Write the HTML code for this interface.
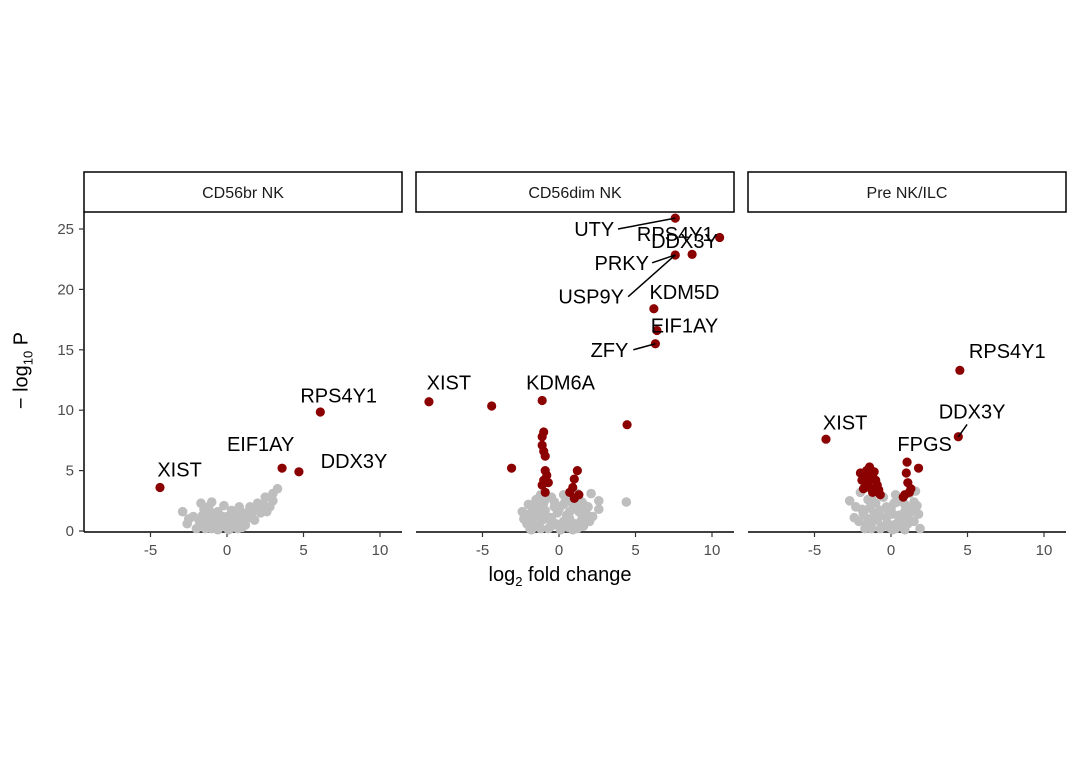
<!DOCTYPE html>
<html><head><meta charset="utf-8"><style>
body{margin:0;background:#fff}
svg{display:block;font-family:"Liberation Sans",sans-serif}
</style></head><body>
<svg id="chart" width="1080" height="771" viewBox="0 0 1080 771" xmlns="http://www.w3.org/2000/svg"></svg>
<script>
const panelNames = ["CD56br NK", "CD56dim NK", "Pre NK/ILC"];
const xTicks = [-5, 0, 5, 10];
const yTicks = [0, 5, 10, 15, 20, 25];
const grayX1 = [-2.9,-2.5,-1.7,-1.5,-1.2,-1,-0.8,-0.5,0,0.5,1,1.5,2,2.5,3,3.3,2.2,1.2,-1.5,-1.8,0.8,-0.3,0.3,-2,1.8,2.8,-1,0.1,-0.6,0.7,-1.3,0.2,1.4,-0.2,0.9,-0.9,1.6,2.4,-2.2,0.4,-1.6,-1.2,-0.8,-0.4,0,0.4,0.8,1.2,1.6,2,-1.4,-1,-0.6,-0.2,0.2,0.6,1,1.4,1.8,-2.6,2.6,3.0];
const grayY1 = [1.6,1.0,2.3,1.8,2.0,1.5,1.0,0.5,0.3,0.8,1.5,2.0,2.3,2.8,3.1,3.5,1.5,0.5,0.4,0.8,2.0,1.2,1.7,0.2,0.9,2.0,2.4,0.1,0.1,0.2,1.1,0.9,1.1,2.1,0.7,0.6,1.6,2.2,1.2,0.5,1.3,0.9,0.5,0.7,1.2,0.4,1.0,0.9,1.3,1.8,0.2,0.2,1.6,0.4,0.2,1.3,0.3,1.6,1.9,0.6,1.6,2.5];
const redX1 = [-4.38,6.1,3.6,4.7];
const redY1 = [3.6,9.85,5.2,4.9];
const grayX2 = [-2.3,-2,-1.8,-1.5,-1.2,-1,-0.8,-0.5,-0.2,0,0.3,0.6,0.9,1.2,1.5,1.8,2.1,2.6,2.6,4.4,-1.6,-1.1,-0.6,0.2,0.7,1.1,1.6,-2.4,-1.9,-0.3,0.5,1.3,2,-1.4,0.1,0.9,-0.7,1.7,-1.3,0.4,-2.1,-1.7,-1.3,-0.9,-0.5,-0.1,0.3,0.7,1.1,1.5,1.9,-1.8,-1.2,-0.6,0,0.6,1.2,1.8,-1.5,-0.9,-0.3,0.3,0.9,1.5,-2.2,2.2,-0.4,0.8];
const grayY2 = [1.0,2.2,1.5,2.6,3.0,2.3,1.2,2.8,0.6,1.8,3.0,2.7,2.2,3.1,2.4,1.4,3.1,2.5,1.8,2.4,0.5,0.9,0.3,0.5,1.0,0.6,0.4,1.6,0.2,2.0,1.3,1.6,0.8,1.9,0.1,0.1,0.2,2.1,0.4,2.4,0.6,1.0,1.4,1.7,1.1,1.5,0.8,1.6,1.9,1.0,2.0,0.1,0.2,0.9,0.4,0.3,0.2,1.2,2.0,2.6,2.4,2.2,2.8,1.7,1.4,1.2,0.5,2.5];
const redX2 = [-8.5,-4.4,-1.1,4.45,-3.1,7.6,10.5,8.7,7.6,6.2,6.4,6.3,-1,-1.1,-1.1,-1,-0.9,-0.9,-0.8,-1,-1.1,-0.7,1.2,1,0.9,0.7,1.3,1,-0.9];
const redY2 = [10.7,10.35,10.8,8.8,5.2,25.9,24.3,22.9,22.85,18.4,16.6,15.5,8.2,7.8,7.1,6.6,6.2,5.0,4.6,4.2,3.8,4.0,5.0,4.3,3.6,3.2,3.0,2.7,3.2];
const grayX3 = [-2.7,-2.3,-2,-1.8,-1.5,-1.2,-1,-0.8,-0.5,-0.2,0,0.3,0.6,0.9,1.2,1.5,1.8,-1.6,-1.1,-0.6,0.2,0.7,1.1,1.9,-2.1,-0.3,0.5,1.4,-1.4,0.1,0.9,-0.7,1.7,-1.3,0.4,-0.9,1.6,-0.1,-1.9,-1.5,-1.1,-0.7,-0.3,0.1,0.5,0.9,1.3,-1.7,-1.3,-0.9,-0.5,-0.1,0.3,0.7,1.1,1.5,-2.4,0.2];
const grayY3 = [2.5,2.0,3.2,1.4,2.6,3.0,2.3,1.2,2.8,0.6,1.8,3.0,2.7,2.2,3.1,2.4,1.4,0.5,0.9,0.3,0.5,1.0,0.6,0.2,0.8,2.0,1.3,1.6,1.9,0.1,0.1,0.2,2.1,0.4,2.4,3.4,3.3,1.5,1.8,1.0,1.5,1.7,1.1,1.4,0.8,1.6,1.9,0.2,0.2,0.9,0.4,0.3,0.2,0.5,1.2,0.8,1.1,2.3];
const redX3 = [-4.25,4.5,4.4,1.05,1.8,-2,-1.6,-1.4,-1.2,-1,-1.5,-1.8,-1.2,-0.9,-0.7,1,1.1,1.2,0.8,-1.7,-1.3,-1.9,-1.1,-1.4,-0.8,-1.6,1.3,0.9];
const redY3 = [7.6,13.3,7.8,5.7,5.2,4.8,5.0,5.3,4.6,4.2,4.0,3.5,3.2,3.8,3.0,4.8,4.0,3.2,2.8,4.5,5.0,4.2,4.9,3.6,3.4,4.4,3.5,3.0];
const labText1 = ["XIST","RPS4Y1","EIF1AY","DDX3Y"];
const labPX1 = [-4.38,6.1,3.6,4.7], labPY1=[3.6,9.85,5.2,4.9];
const labLX1 = [-3.1,7.3,2.2,8.3], labLY1=[5.1,11.2,7.2,5.8], labLine1=[0,0,0,0];
const labText2 = ["XIST","KDM6A","UTY","RPS4Y1","DDX3Y","PRKY","USP9Y","KDM5D","EIF1AY","ZFY"];
const labPX2 = [-8.5,-1.1,7.6,10.5,8.7,7.6,7.6,6.2,6.4,6.3];
const labPY2 = [10.7,10.8,25.9,24.3,22.9,22.85,22.85,18.4,16.6,15.5];
const labLX2 = [-7.2,0.1,2.3,7.6,8.2,4.1,2.1,8.2,8.2,3.3];
const labLY2 = [12.3,12.3,25.0,24.6,24.0,22.2,19.4,19.8,17.0,15.0];
const labLine2 = [0,0,1,0,0,1,1,0,0,1];
const labText3 = ["XIST","RPS4Y1","DDX3Y","FPGS"];
const labPX3 = [-4.25,4.5,4.4,1.05], labPY3=[7.6,13.3,7.8,5.7];
const labLX3 = [-3.0,7.6,5.3,2.2], labLY3=[9.0,14.9,9.9,7.2], labLine3=[0,0,1,0];

const panels = [
 {gx:grayX1,gy:grayY1,rx:redX1,ry:redY1,lt:labText1,lpx:labPX1,lpy:labPY1,llx:labLX1,lly:labLY1,ll:labLine1},
 {gx:grayX2,gy:grayY2,rx:redX2,ry:redY2,lt:labText2,lpx:labPX2,lpy:labPY2,llx:labLX2,lly:labLY2,ll:labLine2},
 {gx:grayX3,gy:grayY3,rx:redX3,ry:redY3,lt:labText3,lpx:labPX3,lpy:labPY3,llx:labLX3,lly:labLY3,ll:labLine3}];
const svg = document.getElementById('chart');
const NS = "http://www.w3.org/2000/svg";
function mk(tag, attrs, parent){const e=document.createElementNS(NS,tag);for(const k in attrs)e.setAttribute(k,attrs[k]);(parent||svg).appendChild(e);return e;}
const PW=318, PL=[84,416,748], TOP=212, BOT=532;
const xs = (p,v)=>PL[p]+143+v*15.3;
const ys = v=>531-v*12.08;
panels.forEach((pd,p)=>{
  const g = mk('g',{});
  
  
  const strip = mk('rect',{x:PL[p],y:172,width:PW,height:40,fill:'#fff',stroke:'#000','stroke-width':1.5},g);
  
  
  const st = mk('text',{x:PL[p]+PW/2,y:198,'text-anchor':'middle','font-size':16,fill:'#1a1a1a'},g);
  st.textContent = panelNames[p];
  
  
  const ax = mk('line',{x1:PL[p],x2:PL[p]+PW,y1:BOT,y2:BOT,stroke:'#000','stroke-width':1.5},g);
  
  
  xTicks.forEach(t=>{
    mk('line',{x1:xs(p,t),x2:xs(p,t),y1:BOT,y2:BOT+5,stroke:'#333','stroke-width':1.2},g);
    const tl = mk('text',{x:xs(p,t),y:555,'text-anchor':'middle','font-size':15,fill:'#4d4d4d'},g);
    tl.textContent = t;
    
    
  });
  pd.gx.forEach((v,i)=>{
    const c = mk('circle',{cx:xs(p,v),cy:ys(pd.gy[i]),r:4.8,fill:'#bebebe'},g);
    
    
  });
  pd.rx.forEach((v,i)=>{
    const c = mk('circle',{cx:xs(p,v),cy:ys(pd.ry[i]),r:4.6,fill:'#8b0000'},g);
    
    
  });
  pd.lt.forEach((t,i)=>{
    const lx=xs(p,pd.llx[i]), ly=ys(pd.lly[i]);
    if(pd.ll[i]){
      const w=t.length*6.6+4;
      const px=xs(p,pd.lpx[i]), py=ys(pd.lpy[i]);
      let sx, sy;
      if(px > lx + w){ sx = lx + w; sy = ly; } else { sx = lx - 5; sy = ly + 13; }
      const ln = mk('line',{x1:sx,y1:sy,x2:px,y2:py,stroke:'#000','stroke-width':1.5},g);
      
      
    }
    const tx = mk('text',{x:lx,y:ly+7,'text-anchor':'middle','font-size':20,fill:'#000'},g);
    tx.textContent = t;
    
    
  });
});
const yax = mk('line',{x1:84,x2:84,y1:TOP,y2:BOT,stroke:'#000','stroke-width':1.5});


yTicks.forEach(t=>{
  mk('line',{x1:79,x2:84,y1:ys(t),y2:ys(t),stroke:'#333','stroke-width':1.2});
  const tl = mk('text',{x:74,y:ys(t)+5,'text-anchor':'end','font-size':15,fill:'#4d4d4d'});
  tl.textContent = t;
  
  
});
</script>
<div style="position:absolute;left:460px;top:564px;width:200px;text-align:center;font:20px 'Liberation Sans',sans-serif;color:#000">log<sub style="font-size:13px">2</sub> fold change</div>
<div style="position:absolute;left:-27px;top:358px;width:100px;text-align:center;transform:rotate(-90deg);font:20px 'Liberation Sans',sans-serif;color:#000">− log<sub style="font-size:13px">10</sub> P</div>
</body></html>
